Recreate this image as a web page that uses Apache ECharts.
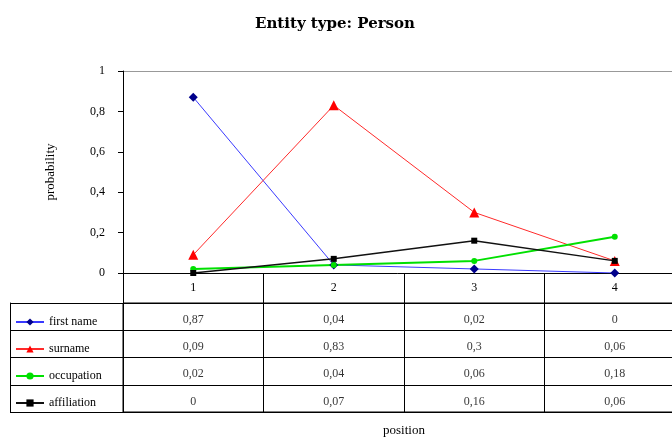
<!DOCTYPE html>
<html>
<head>
<meta charset="utf-8">
<script src="https://cdn.jsdelivr.net/npm/echarts@6/dist/echarts.min.js"></script>
<style>
  html, body { margin: 0; padding: 0; background: #fff; }
  #chart { width: 672px; height: 440px; }
</style>
</head>
<body>
<div id="chart"></div>
<script>
const positions = ['1', '2', '3', '4'];
const seriesNames = ['first name', 'surname', 'occupation', 'affiliation'];
const firstName = [0.87, 0.04, 0.02, 0];
const surname = [0.09, 0.83, 0.3, 0.06];
const occupation = [0.02, 0.04, 0.06, 0.18];
const affiliation = [0, 0.07, 0.16, 0.06];

const allValues = [firstName, surname, occupation, affiliation];
const serif = 'Liberation Serif';
const comma = v => String(v).replace('.', ',');

const chart = echarts.init(document.getElementById('chart'));

// cells of the data table: [column, row, value]
const cells = [];
allValues.forEach((vals, r) => {
  vals.forEach((v, c) => cells.push([c, r, v]));
});

const styles = [
  { line: '#3a3aff', mark: '#00008b', symbol: 'diamond', size: 9, width: 1 },
  { line: '#ff2a2a', mark: '#ff0000', symbol: 'triangle', size: 10, width: 1 },
  { line: '#00e000', mark: '#00e000', symbol: 'circle', size: 6, width: 2 },
  { line: '#111111', mark: '#000000', symbol: 'rect', size: 6, width: 1.5 }
];

const lineSeries = seriesNames.map((name, i) => ({
  name: name,
  type: 'line',
  xAxisIndex: 0,
  yAxisIndex: 0,
  data: allValues[i],
  symbol: styles[i].symbol,
  symbolSize: styles[i].size,
  showAllSymbol: true,
  lineStyle: { color: styles[i].line, width: styles[i].width },
  itemStyle: { color: styles[i].mark },
  emphasis: { disabled: true }
}));

const option = {
  animation: false,
  title: {
    text: 'Entity type: Person',
    left: 330,
    textAlign: 'center',
    top: 12,
    textStyle: { fontFamily: 'DejaVu Serif', fontSize: 15, fontWeight: 'bold', color: '#000' }
  },
  legend: {
    data: seriesNames,
    orient: 'vertical',
    left: 15,
    top: 316,
    padding: 0,
    itemGap: 15,
    itemWidth: 28,
    itemHeight: 9,
    textStyle: { fontFamily: serif, fontSize: 12, color: '#000' },
    selectedMode: false
  },
  grid: [
    { left: 123, top: 71, width: 562, height: 202, outerBoundsMode: 'none' },
    { left: 123, top: 303, width: 562, height: 109, outerBoundsMode: 'none', show: true, borderColor: '#000', borderWidth: 1 }
  ],
  xAxis: [
    {
      type: 'category',
      gridIndex: 0,
      data: positions,
      boundaryGap: true,
      axisLine: { lineStyle: { color: '#000', width: 1 } },
      axisTick: { show: true, interval: 0, length: 30, lineStyle: { color: '#000' } },
      axisLabel: { margin: 9, fontFamily: serif, fontSize: 12, color: '#000' },
      splitLine: { show: false }
    },
    {
      type: 'category',
      gridIndex: 1,
      data: positions,
      boundaryGap: true,
      axisLine: { show: false },
      axisTick: { show: false },
      axisLabel: { show: false },
      splitLine: { show: true, interval: 0, lineStyle: { color: '#000', width: 1 } },
      name: 'position',
      nameLocation: 'middle',
      nameGap: 12,
      nameTextStyle: { fontFamily: serif, fontSize: 13, color: '#000' }
    }
  ],
  yAxis: [
    {
      type: 'value',
      gridIndex: 0,
      min: 0,
      max: 1,
      interval: 0.2,
      name: 'probability',
      nameLocation: 'middle',
      nameGap: 66,
      nameTextStyle: { fontFamily: serif, fontSize: 13, color: '#000' },
      axisLine: { show: true, lineStyle: { color: '#000', width: 1 } },
      axisTick: { show: true, length: 5, lineStyle: { color: '#000' } },
      axisLabel: { margin: 18, fontFamily: serif, fontSize: 12, color: '#000', formatter: comma },
      splitLine: {
        show: true,
        lineStyle: { color: ['transparent', 'transparent', 'transparent', 'transparent', 'transparent', '#999'], width: 1 }
      }
    },
    {
      type: 'category',
      gridIndex: 1,
      data: seriesNames,
      inverse: true,
      boundaryGap: true,
      offset: 113,
      axisLine: { show: true, lineStyle: { color: '#000', width: 1 } },
      axisTick: { show: true, inside: true, interval: 0, length: 113, lineStyle: { color: '#000' } },
      axisLabel: { show: false },
      splitLine: { show: true, interval: 0, lineStyle: { color: '#000', width: 1 } }
    }
  ],
  series: lineSeries.concat([
    {
      type: 'scatter',
      name: 'table',
      xAxisIndex: 1,
      yAxisIndex: 1,
      data: cells,
      symbolSize: 0,
      silent: true,
      label: {
        show: true,
        position: 'inside',
        offset: [0, 3],
        fontFamily: serif,
        fontSize: 12,
        color: '#000',
        formatter: p => comma(p.value[2])
      }
    }
  ])
};

chart.setOption(option);
</script>
</body>
</html>
